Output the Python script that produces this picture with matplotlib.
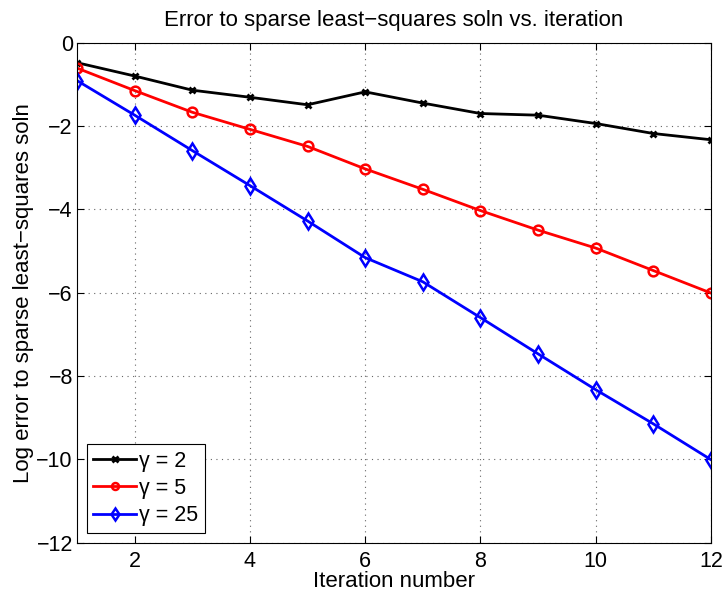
import matplotlib.pyplot as plt
import numpy as np

plt.rcParams['font.family'] = ['Liberation Sans', 'DejaVu Sans']

iterations = np.arange(1, 13)
err_g2 = [-0.48, -0.80, -1.14, -1.31, -1.49, -1.18, -1.45, -1.70, -1.74, -1.94, -2.18, -2.33]
err_g5 = [-0.61, -1.15, -1.67, -2.08, -2.49, -3.03, -3.52, -4.03, -4.50, -4.93, -5.47, -6.01]
err_g25 = [-0.91, -1.74, -2.59, -3.43, -4.28, -5.16, -5.74, -6.60, -7.47, -8.33, -9.15, -10.01]
labels = ['\u03b3 = 2', '\u03b3 = 5', '\u03b3 = 25']

fig = plt.figure(figsize=(7.27, 5.93), dpi=100)
ax = fig.add_axes([0.106, 0.085, 0.872, 0.843])

ax.plot(iterations, err_g2, color='k', marker='x', markersize=5, mew=2, lw=2, label=labels[0])
ax.plot(iterations, err_g5, color='r', marker='o', markersize=7, mfc='none', mew=1.8, lw=2, label=labels[1])
ax.plot(iterations, err_g25, color='b', marker='d', markersize=8, mfc='none', mew=1.8, lw=2, label=labels[2])

ax.set_xlim(1, 12)
ax.set_ylim(-12, 0)
ax.set_xticks([2, 4, 6, 8, 10, 12])
ax.set_yticks(np.arange(-12, 1, 2))
ax.set_yticklabels(['\u2212' + str(abs(v)) if v < 0 else str(v) for v in range(-12, 1, 2)])
ax.tick_params(direction='in', labelsize=15.5, length=5, top=True, right=True)
ax.tick_params(axis='x', pad=6)
ax.tick_params(axis='y', pad=3)
ax.grid(True, linestyle=(0, (1, 4)), color='0.4', linewidth=0.8)

ax.set_xlabel('Iteration number', fontsize=16, labelpad=-1)
ax.set_ylabel('Log error to sparse least\u2212squares soln', fontsize=16, labelpad=2)
ax.set_title('Error to sparse least\u2212squares soln vs. iteration', fontsize=16, pad=12)

leg = ax.legend(loc='lower left', fontsize=15.5, fancybox=False, edgecolor='k',
                framealpha=1, handlelength=2.0, handletextpad=0.15,
                borderaxespad=0.45, labelspacing=0.3, borderpad=0.3)
leg.get_frame().set_linewidth(0.8)
# legend markers are drawn smaller than the ones on the lines
for h, ms in zip(leg.legend_handles, [4, 5, 6]):
    h.set_markersize(ms)

fig.savefig('out.png', dpi=100)
